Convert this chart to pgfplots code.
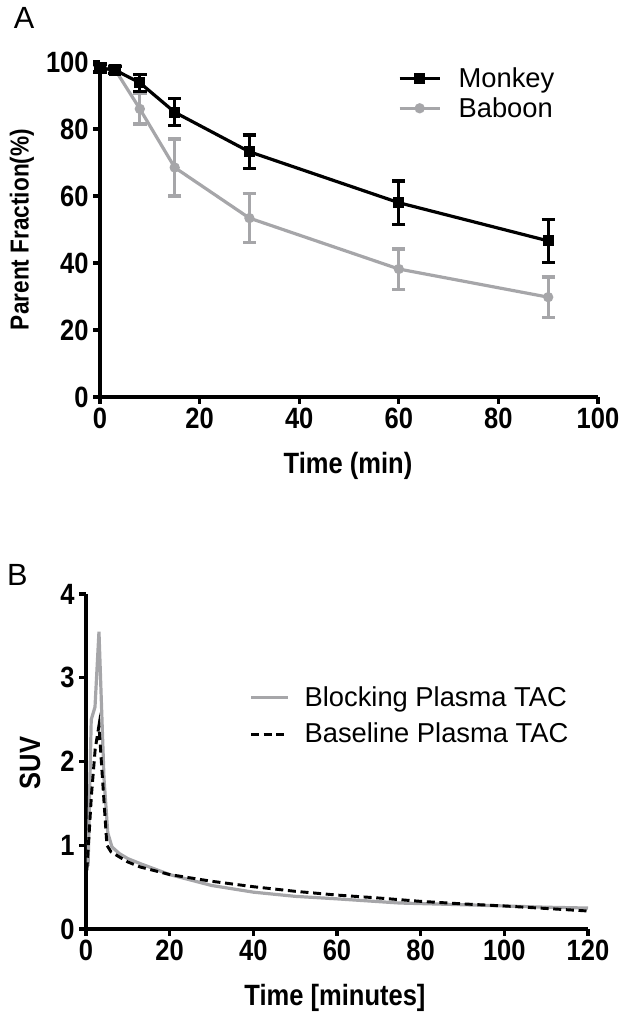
\documentclass[border=0pt]{standalone}
\usepackage{pgfplots}
\pgfplotsset{compat=1.18}
\usepackage{fontspec}
\setmainfont{Liberation Sans}
\newfontfamily\cb{Liberation Sans}[FakeStretch=0.87]
\definecolor{pgrey}{RGB}{166,166,169}

\pgfplotstableread{
t m me b be
0 98.2 1.2 98.0 1.0
3 97.6 1.0 97.8 1.0
8 93.8 2.5 86.0 4.5
15 85.0 4.0 68.5 8.5
30 73.2 5.0 53.4 7.3
60 58.0 6.5 38.2 6.0
90 46.6 6.5 29.8 6.0
}\pfdata

\pgfplotstableread{
t s
0.5 0.75
1.25 2.5
2.15 2.65
3.1 3.55
4.3 1.8
5.2 1.15
6.2 0.98
8 0.9
10 0.84
13 0.78
20 0.65
30 0.52
40 0.44
50 0.39
60 0.36
75 0.31
90 0.29
100 0.275
110 0.26
120 0.25
}\blocking

\pgfplotstableread{
t s
0.2 0.7
0.7 1.1
1.3 1.6
2.2 2.15
3.1 2.43
4.2 1.6
5.0 1.0
6 0.92
8 0.86
10 0.8
13 0.74
20 0.65
30 0.57
40 0.505
50 0.45
60 0.405
70 0.37
80 0.33
90 0.3
100 0.275
110 0.245
120 0.215
}\baseline

\begin{document}
\begin{tikzpicture}
\pgfplotsset{prism/.style={
  scale only axis,
  axis x line*=bottom, axis y line*=left,
  axis line style={line width=2.5pt, black},
  every tick/.style={line width=2.5pt, black},
  major tick length=5pt, tick align=outside,
  minor tick num=0,
  ticklabel style={font=\fontsize{22}{22}\selectfont\cb\bfseries},
  /pgf/number format/assume math mode=true,
  label style={font=\fontsize{22}{22}\selectfont\cb\bfseries},
  clip=false,
  legend cell align=left,
}}
\useasboundingbox (0,0) rectangle (470.25pt,762.75pt);

\node[font=\fontsize{23}{23}\selectfont] at (18pt,749.25pt) {A};
\node[font=\fontsize{23}{23}\selectfont] at (13pt,331.5pt) {B};

\begin{axis}[prism,
  at={(75pt,465pt)}, anchor=south west,
  width=373.5pt, height=251.25pt,
  xmin=0, xmax=100, ymin=0, ymax=100,
  xtick={0,20,...,100}, ytick={0,20,...,100},
  xlabel={Time (min)},
  ylabel={Parent Fraction(\%)},
  xlabel style={at={(axis description cs:0.498,-0.206)}, anchor=center},
  ylabel style={at={(axis description cs:-0.1566,0.5)}, anchor=center, font=\fontsize{19.5}{19.5}\selectfont\cb\bfseries},
  reverse legend,
  legend style={at={(rel axis cs:0.59,1.0)}, anchor=north west, draw=none, fill=none,
    font=\fontsize{20.5}{20.5}\selectfont, row sep=2pt,
    /tikz/every odd column/.append style={column sep=11pt}},
  legend image code/.code={\draw[mark repeat=2,mark phase=2,#1] plot coordinates {(0pt,0pt) (15pt,0pt) (30pt,0pt)};},
]
\addplot[pgrey, line width=2.4pt, mark=*, mark size=2.6pt, mark options={solid},
  error bars/.cd, y dir=both, y explicit,
  error bar style={line width=2.4pt, pgrey},
  error mark options={rotate=90, mark size=5pt, line width=2.4pt, pgrey}]
  table[x=t, y=b, y error=be] {\pfdata};
\addlegendentry{Baboon}
\addplot[black, line width=2.4pt, mark=square*, mark size=3pt, mark options={solid},
  error bars/.cd, y dir=both, y explicit,
  error bar style={line width=2.4pt, black},
  error mark options={rotate=90, mark size=5pt, line width=2.4pt, black}]
  table[x=t, y=m, y error=me] {\pfdata};
\addlegendentry{Monkey}
\end{axis}

\begin{axis}[prism,
  at={(64.5pt,66pt)}, anchor=south west,
  width=376.5pt, height=251.25pt,
  xmin=0, xmax=120, ymin=0, ymax=4,
  xtick={0,20,...,120}, ytick={0,1,...,4},
  xlabel={Time [minutes]},
  ylabel={SUV},
  xlabel style={at={(axis description cs:0.496,-0.206)}, anchor=center},
  ylabel style={at={(axis description cs:-0.1116,0.496)}, anchor=center},
  legend style={at={(rel axis cs:0.317,0.74)}, anchor=north west, draw=none, fill=none,
    font=\fontsize{20.5}{20.5}\selectfont, row sep=7pt,
    /tikz/every odd column/.append style={column sep=9pt}},
  legend image code/.code={\draw[#1] (0pt,0pt) -- (28pt,0pt);},
]
\addplot[pgrey, line width=2.4pt] table[x=t, y=s] {\blocking};
\addlegendentry{Blocking Plasma TAC}
\addplot[black, line width=2.2pt, dash pattern=on 6pt off 3.5pt] table[x=t, y=s] {\baseline};
\addlegendentry{Baseline Plasma TAC}
\end{axis}
\end{tikzpicture}
\end{document}
